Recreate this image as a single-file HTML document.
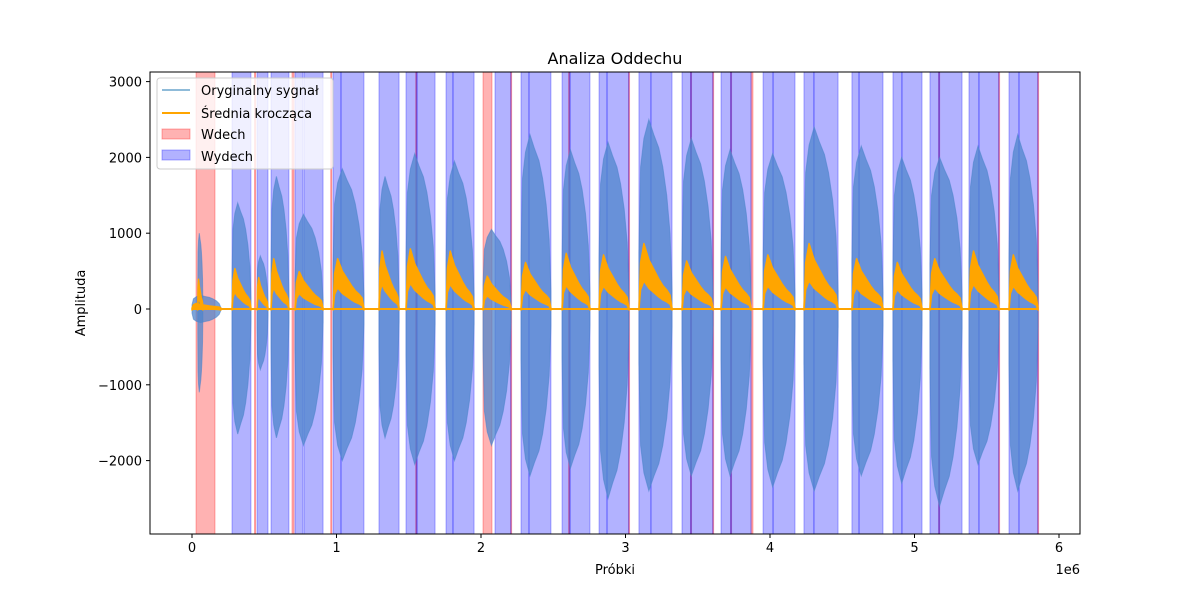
<!DOCTYPE html>
<html><head><meta charset="utf-8"><style>
body{margin:0;background:#fff;}
svg{display:block;font-family:"DejaVu Sans","Liberation Sans",sans-serif;}
</style></head><body>
<svg id="chart" width="1200" height="600" viewBox="0 0 1200 600" xmlns="http://www.w3.org/2000/svg">
<rect width="1200" height="600" fill="#fff"/>
<g id="spans"></g>
<g id="signal"></g>
<g id="mavg"></g>
<rect x="150" y="72" width="930" height="462" fill="none" stroke="#000" stroke-width="1"/>
<g id="axes"></g>
<text x="615" y="64" font-size="16" text-anchor="middle">Analiza Oddechu</text>
<text x="615" y="574" font-size="13" text-anchor="middle">Próbki</text>
<text x="1080" y="574" font-size="13" text-anchor="end">1e6</text>
<text transform="translate(85,303) rotate(-90)" font-size="13" text-anchor="middle">Amplituda</text>
<g>
<rect x="157" y="78" width="176" height="91" rx="3" fill="#fff" fill-opacity="0.8" stroke="#ccc"/>
<line x1="162" y1="90" x2="190" y2="90" stroke="#1f77b4" stroke-opacity="0.5" stroke-width="2"/>
<text x="201" y="95" font-size="13">Oryginalny sygnał</text>
<line x1="162" y1="113" x2="190" y2="113" stroke="orange" stroke-width="2"/>
<text x="201" y="118" font-size="13">Średnia krocząca</text>
<rect x="162" y="129" width="28" height="10" fill="#ff0000" fill-opacity="0.3" stroke="#ff0000" stroke-opacity="0.3"/>
<text x="201" y="139" font-size="13">Wdech</text>
<rect x="162" y="150" width="28" height="10" fill="#0000ff" fill-opacity="0.3" stroke="#0000ff" stroke-opacity="0.3"/>
<text x="201" y="161" font-size="13">Wydech</text>
</g>
</svg>
<script>
const exhaleStart=[277000,450000,547000,713000,775000,976000,1031000,1294000,1481000,1557000,1758000,1806000,2097000,2277000,2332000,2561000,2616000,2817000,2872000,3093000,3176000,3391000,3453000,3661000,3730000,3952000,4021000,4235000,4304000,4567000,4616000,4851000,4913000,5107000,5170000,5377000,5446000,5654000,5723000];
const exhaleEnd=[408000,526000,671000,768000,907000,1031000,1190000,1433000,1557000,1682000,1806000,1952000,2208000,2332000,2484000,2616000,2754000,2872000,3024000,3176000,3322000,3453000,3606000,3730000,3869000,4021000,4173000,4304000,4471000,4616000,4782000,4913000,5052000,5170000,5329000,5446000,5585000,5723000,5855000];
const inhaleStart=[28000,433000,692000,960000,1548000,2014000,2205000,2606000,3021000,3450000,3603000,3727000,3869000,5167000,5582000,5852000];
const inhaleEnd=[159000,439000,706000,965000,1553000,2076000,2211000,2612000,3027000,3456000,3609000,3733000,3882000,5173000,5588000,5858000];
const burstStart=[0,40000,277000,450000,547000,713000,976000,1294000,1481000,1758000,2014000,2277000,2561000,2817000,3093000,3391000,3661000,3952000,4235000,4567000,4851000,5107000,5377000,5654000];
const burstEnd=[200000,75000,408000,526000,671000,907000,1190000,1433000,1682000,1952000,2208000,2484000,2754000,3024000,3322000,3606000,3869000,4173000,4471000,4782000,5052000,5329000,5585000,5855000];
const burstPos=[180,1000,1400,700,1750,1250,1850,1750,2050,1950,1050,2300,2100,2200,2500,2250,2100,2050,2400,2150,2000,2000,2150,2300];
const burstNeg=[180,1100,1650,800,1700,1800,2000,1700,2050,2000,1800,2200,2100,2500,2400,2200,2200,2350,2400,2200,2300,2600,2050,2400];
const avgPeak=[60,380,520,400,650,480,650,750,780,750,420,600,720,700,850,620,680,700,850,650,600,650,750,700];
const xTicks=[0,1,2,3,4,5,6];
const yTicks=[-2000,-1000,0,1000,2000,3000];
const NS="http://www.w3.org/2000/svg";
const xS=v=>192+v/1e6*144.5, yS=a=>309-a*0.0758;
function mk(t,p,a){const e=document.createElementNS(NS,t);for(const k in a)e.setAttribute(k,a[k]);p.appendChild(e);return e;}
const sp=document.getElementById('spans');
inhaleStart.forEach((s,i)=>{const x1=xS(s),x2=xS(inhaleEnd[i]);
const r=mk('rect',sp,{x:x1,y:72,width:Math.max(1,x2-x1),height:462,fill:'#ff0000','fill-opacity':0.3,stroke:'#ff0000','stroke-opacity':0.3});

});
exhaleStart.forEach((s,i)=>{const x1=xS(s),x2=xS(exhaleEnd[i]);
const r=mk('rect',sp,{x:x1,y:72,width:x2-x1,height:462,fill:'#0000ff','fill-opacity':0.3,stroke:'#0000ff','stroke-opacity':0.3});

});
const fr=[0,0.05,0.15,0.3,0.45,0.6,0.72,0.84,0.94,1];
const env=[0.3,0.75,0.9,1,0.92,0.85,0.75,0.6,0.4,0.1];
const avs=[0,0.7,1,0.75,0.6,0.45,0.35,0.28,0.2,0];
const sg=document.getElementById('signal'), mg=document.getElementById('mavg');
mk('line',mg,{x1:xS(0),y1:yS(0),x2:xS(5855000),y2:yS(0),stroke:'orange','stroke-width':2});
burstStart.forEach((s,i)=>{const e=burstEnd[i];let top=[],bot=[],at=[],ab=[];
fr.forEach((f,j)=>{const x=xS(s+(e-s)*f);top.push(x+','+yS(burstPos[i]*env[j]));bot.unshift(x+','+yS(-burstNeg[i]*env[j]));
at.push(x+','+(yS(avgPeak[i]*avs[j])-1));ab.unshift(x+','+(yS(avgPeak[i]*avs[j]*0.45)+1));});
const p=mk('polygon',sg,{points:top.concat(bot).join(' '),fill:'#4f86cc','fill-opacity':0.75,stroke:'#4f86cc','stroke-opacity':0.6});


const m=mk('polygon',mg,{points:at.concat(ab).join(' '),fill:'orange',stroke:'orange','stroke-width':1.5,'stroke-linejoin':'round'});

});
const ax=document.getElementById('axes');
xTicks.forEach(t=>{const x=xS(t*1e6);mk('line',ax,{x1:x,y1:534,x2:x,y2:538,stroke:'#000'});
const tx=mk('text',ax,{x:x,y:552,'font-size':13,'text-anchor':'middle'});tx.textContent=t;

});
yTicks.forEach(t=>{const y=yS(t);mk('line',ax,{x1:146,y1:y,x2:150,y2:y,stroke:'#000'});
const tx=mk('text',ax,{x:142,y:y+5,'font-size':13,'text-anchor':'end'});tx.textContent=(t<0?'\u2212'+(-t):t);

});
</script>
</body></html>
